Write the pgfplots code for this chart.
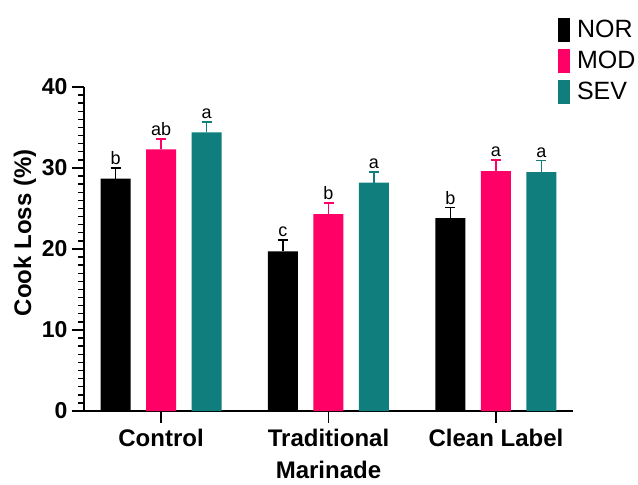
\documentclass[border=0pt]{standalone}
\usepackage{pgfplots}
\pgfplotsset{compat=1.18}
\usepackage{fontspec}
\setmainfont{Liberation Sans}
\definecolor{mypink}{HTML}{FF0066}
\definecolor{myteal}{HTML}{107E7C}
\begin{document}
\begin{tikzpicture}
\useasboundingbox (-84pt,-74pt) rectangle (554pt,411pt);
\begin{axis}[
  scale only axis, width=489pt, height=324pt,
  ybar, bar width=30pt,
  xmin=-0.46, xmax=2.46, ymin=0, ymax=40,
  axis x line=bottom, axis y line=left,
  axis line style={-, line width=1.6pt},
  xtick={0,1,2},
  xticklabels={Control,{Traditional\\Marinade},{Clean Label}},
  xticklabel style={align=center, font=\fontsize{24}{32}\selectfont\bfseries, yshift=-3pt},
  ytick={0,10,20,30,40}, minor y tick num=9,
  yticklabel style={font=\fontsize{23}{28}\selectfont\bfseries, xshift=-1pt},
  /pgf/number format/assume math mode=true,
  tick align=outside, tick style={line width=1.4pt, black},
  major tick length=12pt, minor tick length=6pt,
  ylabel={Cook Loss (\%)},
  ylabel style={at={(axis description cs:-0.121,0.55)}, anchor=center, font=\fontsize{24}{29}\selectfont\bfseries},
  legend style={at={(0.969,1.215)}, anchor=north west, draw=none, fill=none,
    font=\fontsize{25}{30}\selectfont, row sep=7pt, inner sep=0pt,
    /tikz/every odd column/.append style={column sep=5pt}},
  legend cell align=left,
  legend image code/.code={\fill[#1] (0pt,-12pt) rectangle (12pt,12pt);},
]
\addplot[fill=black, draw=none, bar shift=-45.5pt,
  error bars/.cd, y dir=plus, y explicit,
  error bar style={black, line width=1.5pt},
  error mark options={rotate=90, black, line width=1.5pt, mark size=5pt}]
  coordinates {(0,28.7) +- (0,1.3) (1,19.7) +- (0,1.4) (2,23.8) +- (0,1.3)};
\addlegendentry{NOR}
\addplot[fill=mypink, draw=none, bar shift=0pt,
  error bars/.cd, y dir=plus, y explicit,
  error bar style={mypink, line width=1.5pt},
  error mark options={rotate=90, mypink, line width=1.5pt, mark size=5pt}]
  coordinates {(0,32.3) +- (0,1.3) (1,24.3) +- (0,1.4) (2,29.6) +- (0,1.4)};
\addlegendentry{MOD}
\addplot[fill=myteal, draw=none, bar shift=45.5pt,
  error bars/.cd, y dir=plus, y explicit,
  error bar style={myteal, line width=1.5pt},
  error mark options={rotate=90, myteal, line width=1.5pt, mark size=5pt}]
  coordinates {(0,34.4) +- (0,1.3) (1,28.2) +- (0,1.3) (2,29.5) +- (0,1.4)};
\addlegendentry{SEV}
% significance letters
\addplot[forget plot, draw=none, fill=none, bar shift=-45.5pt,
  nodes near coords, point meta=explicit symbolic,
  nodes near coords style={font=\fontsize{18}{20}\selectfont, anchor=south, inner sep=3pt, text=black}]
  coordinates {(0,30.0) [b] (1,21.1) [c] (2,25.1) [b]};
\addplot[forget plot, draw=none, fill=none, bar shift=0pt,
  nodes near coords, point meta=explicit symbolic,
  nodes near coords style={font=\fontsize{18}{20}\selectfont, anchor=south, inner sep=3pt, text=black}]
  coordinates {(0,33.6) [ab] (1,25.7) [b] (2,31.0) [a]};
\addplot[forget plot, draw=none, fill=none, bar shift=45.5pt,
  nodes near coords, point meta=explicit symbolic,
  nodes near coords style={font=\fontsize{18}{20}\selectfont, anchor=south, inner sep=3pt, text=black}]
  coordinates {(0,35.7) [a] (1,29.5) [a] (2,30.9) [a]};
\end{axis}
\end{tikzpicture}
\end{document}
